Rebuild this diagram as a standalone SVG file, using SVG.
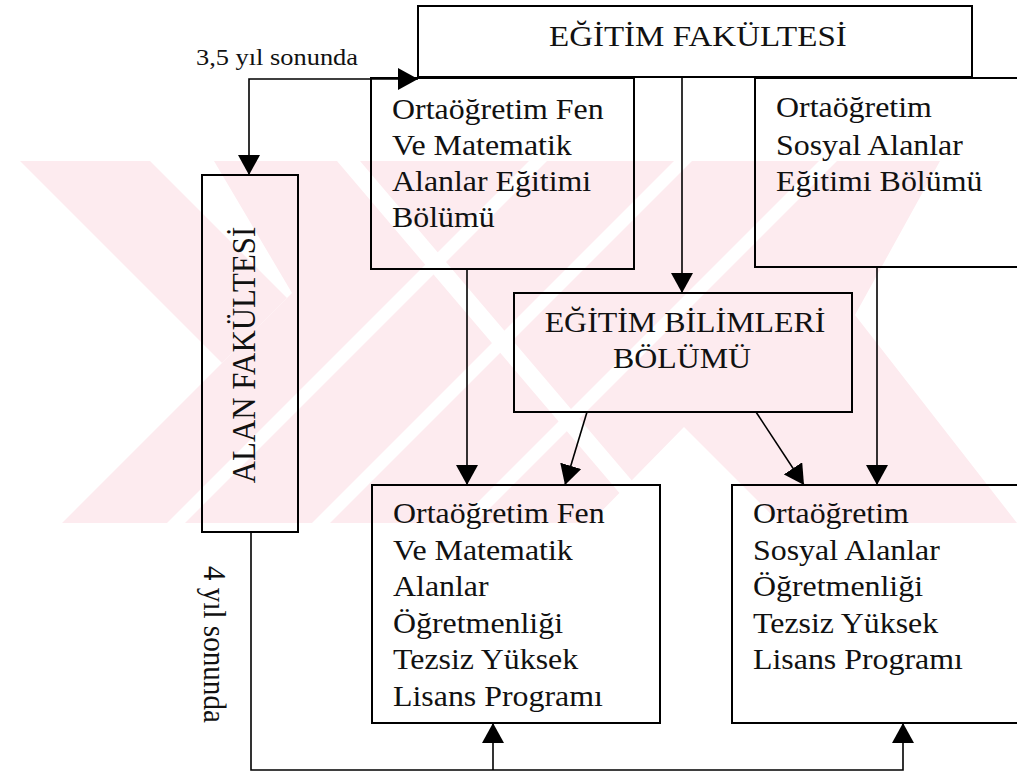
<svg xmlns="http://www.w3.org/2000/svg" width="1017" height="774" viewBox="0 0 1017 774">
<style>
.box{fill:none;stroke:#000;stroke-width:2}
.t{font-family:"Liberation Serif","Times New Roman",serif;fill:#111}
.b{font-size:29px}
.h{font-size:29px}
.c{fill:none;stroke:#000;stroke-width:1.6}
</style>
<defs>
<marker id="ah" markerUnits="userSpaceOnUse" markerWidth="20" markerHeight="22" refX="20" refY="11" orient="auto-start-reverse" viewBox="0 0 20 22">
<path d="M0,0 L20,11 L0,22 z" fill="#000"/>
</marker>
<clipPath id="band"><rect x="0" y="161" width="1017" height="362"/></clipPath>
</defs>
<rect width="1017" height="774" fill="#fff"/>
<g id="watermark" clip-path="url(#band)">
<g fill="#fdebef">
<polygon points="20,161 150,161 287,298 222,363"/>
<polygon points="214,161 940,161 855,315 1017,523 780,523 684,427 590,523 62,523 292,293"/>
</g>
<g fill="#fff">
<polygon points="529,161 547,161 185,523 167,523"/>
<polygon points="674,161 692,161 330,523 312,523"/>
<polygon points="819,161 837,161 475,523 457,523"/>
<polygon points="337,161 360,161 668,523 645,523"/>
</g>
</g>
<g id="n-egitim-fakultesi">
<rect class="box" x="418" y="6" width="554" height="71"/>
<text class="t" font-size="30" transform="matrix(1.1 0 0 1 549 46)">EĞİTİM FAKÜLTESİ</text>
</g>
<g id="n-fen-bolumu">
<rect class="box" x="371" y="78" width="263" height="191"/>
<text class="t b" transform="matrix(1.1 0 0 1 392 119)">Ortaöğretim Fen</text>
<text class="t b" transform="matrix(1.1 0 0 1 392 155)">Ve Matematik</text>
<text class="t b" transform="matrix(1.1 0 0 1 392 191)">Alanlar Eğitimi</text>
<text class="t b" transform="matrix(1.1 0 0 1 392 227)">Bölümü</text>
</g>
<g id="n-sosyal-bolumu">
<rect class="box" x="755" y="78" width="270" height="189"/>
<text class="t b" transform="matrix(1.1 0 0 1 776 117)">Ortaöğretim</text>
<text class="t b" transform="matrix(1.1 0 0 1 776 155)">Sosyal Alanlar</text>
<text class="t b" transform="matrix(1.1 0 0 1 776 191)">Eğitimi Bölümü</text>
</g>
<g id="n-egitim-bilimleri">
<rect class="box" x="514" y="293" width="338" height="119"/>
<text class="t h" text-anchor="middle" transform="matrix(1.1 0 0 1 685 332)">EĞİTİM BİLİMLERİ</text>
<text class="t h" text-anchor="middle" transform="matrix(1.1 0 0 1 682 368)">BÖLÜMÜ</text>
</g>
<g id="n-alan-fakultesi">
<rect class="box" x="202" y="175" width="96" height="357"/>
<text class="t" font-size="30" text-anchor="middle" transform="translate(255,355) rotate(-90) scale(1.03,1.1)">ALAN FAKÜLTESİ</text>
</g>
<g id="n-fen-program">
<rect class="box" x="372" y="485" width="288" height="238"/>
<text class="t b" transform="matrix(1.1 0 0 1 393 523)">Ortaöğretim Fen</text>
<text class="t b" transform="matrix(1.1 0 0 1 393 560)">Ve Matematik</text>
<text class="t b" transform="matrix(1.1 0 0 1 393 596)">Alanlar</text>
<text class="t b" transform="matrix(1.1 0 0 1 393 633)">Öğretmenliği</text>
<text class="t b" transform="matrix(1.1 0 0 1 393 669)">Tezsiz Yüksek</text>
<text class="t b" transform="matrix(1.1 0 0 1 393 706)">Lisans Programı</text>
</g>
<g id="n-sosyal-program">
<rect class="box" x="732" y="485" width="292" height="238"/>
<text class="t b" transform="matrix(1.1 0 0 1 753 523)">Ortaöğretim</text>
<text class="t b" transform="matrix(1.1 0 0 1 753 560)">Sosyal Alanlar</text>
<text class="t b" transform="matrix(1.1 0 0 1 753 596)">Öğretmenliği</text>
<text class="t b" transform="matrix(1.1 0 0 1 753 633)">Tezsiz Yüksek</text>
<text class="t b" transform="matrix(1.1 0 0 1 753 669)">Lisans Programı</text>
</g>
<g id="connectors">
<path class="c" d="M249,175 V79 H418" marker-start="url(#ah)" marker-end="url(#ah)"/>
<text class="t" font-size="24" transform="matrix(1.1 0 0 1 196 65)">3,5 yıl sonunda</text>
<path class="c" d="M682,77 V293" marker-end="url(#ah)"/>
<path class="c" d="M467,269 V485" marker-end="url(#ah)"/>
<path class="c" d="M877,267 V485" marker-end="url(#ah)"/>
<path class="c" d="M587,412 L565,485" marker-end="url(#ah)"/>
<path class="c" d="M756,412 L804,485" marker-end="url(#ah)"/>
<path class="c" stroke-width="2.2" d="M251,532 V770 H903 V723" marker-end="url(#ah)"/>
<path class="c" d="M493,770 V723" marker-end="url(#ah)"/>
<text class="t" font-size="28" transform="translate(204,566) rotate(90) scale(1.04,1.1)">4 yıl sonunda</text>
</g>
</svg>
